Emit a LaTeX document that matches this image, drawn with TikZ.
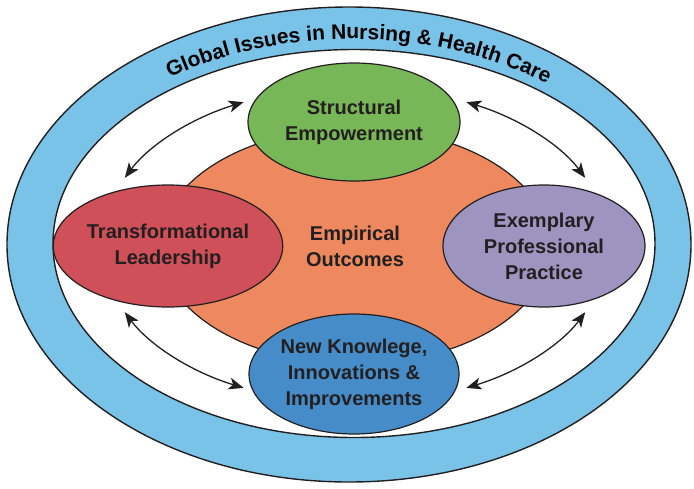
\documentclass[tikz,border=0pt]{standalone}
\usepackage{fontspec}
\setmainfont{Liberation Sans}
\usepackage{xcolor}
\usetikzlibrary{shapes.geometric,arrows.meta,decorations.text}
\definecolor{bandblue}{RGB}{122,195,232}
\definecolor{hubor}{RGB}{238,137,95}
\definecolor{segreen}{RGB}{119,183,87}
\definecolor{tlred}{RGB}{207,80,88}
\definecolor{eppurple}{RGB}{157,148,192}
\definecolor{nkblue}{RGB}{69,140,200}
\definecolor{ink}{RGB}{35,31,32}

\begin{document}
\begin{tikzpicture}[x=1pt, y=1pt,
  every node/.style={font=\fontsize{20}{26}\selectfont\bfseries, text=ink, align=center},
  oval/.style={ellipse, draw=ink, line width=1.2pt, inner sep=0pt},
  link/.style={ink, line width=1.3pt, {Stealth[length=15pt,width=12pt,inset=4pt]}-{Stealth[length=15pt,width=12pt,inset=4pt]}}]
  \useasboundingbox (0,0) rectangle (694,-488);
  \draw[ink, line width=1.4pt, fill=bandblue] (349,-244.5) ellipse[x radius=342, y radius=237.5];
  \draw[ink, line width=1.4pt, fill=white] (354,-243.5) ellipse[x radius=301, y radius=194];
  \path[ink, decorate, decoration={text along path, text align=center,
      text={|\fontsize{21}{24}\selectfont\bfseries|Global Issues in Nursing {\&} Health Care}}]
    (352,-244) ++(178:311 and 205) arc[start angle=178, end angle=-2, x radius=311, y radius=205];
  \node[oval, fill=hubor, minimum width=390pt, minimum height=236pt] (hub) at (355,-246) {Empirical\\Outcomes};
  \node[oval, fill=segreen, minimum width=212pt, minimum height=118pt] (se) at (354,-122) {Structural\\Empowerment};
  \node[oval, fill=tlred, minimum width=202pt, minimum height=122pt] (tl) at (168,-246) {Transformational\\Leadership};
  \node[oval, fill=eppurple, minimum width=202pt, minimum height=122pt] (epp) at (544,-246) {Exemplary\\Professional\\Practice};
  \node[oval, fill=nkblue, minimum width=210pt, minimum height=120pt] (nk) at (354,-374) {New Knowlege,\\Innovations \&\\Improvements};
  \coordinate (orbit) at (355,-245);
  \path (orbit) ++(25:254 and 159) coordinate (se-epp);
  \path (orbit) ++(116:254 and 159) coordinate (tl-se);
  \path (orbit) ++(205:254 and 159) coordinate (nk-tl);
  \path (orbit) ++(296:254 and 159) coordinate (epp-nk);
  \draw[link] (se-epp) arc[start angle=25, end angle=64, x radius=254, y radius=159];
  \draw[link] (tl-se) arc[start angle=116, end angle=155, x radius=254, y radius=159];
  \draw[link] (nk-tl) arc[start angle=205, end angle=244, x radius=254, y radius=159];
  \draw[link] (epp-nk) arc[start angle=296, end angle=335, x radius=254, y radius=159];
\end{tikzpicture}
\end{document}
